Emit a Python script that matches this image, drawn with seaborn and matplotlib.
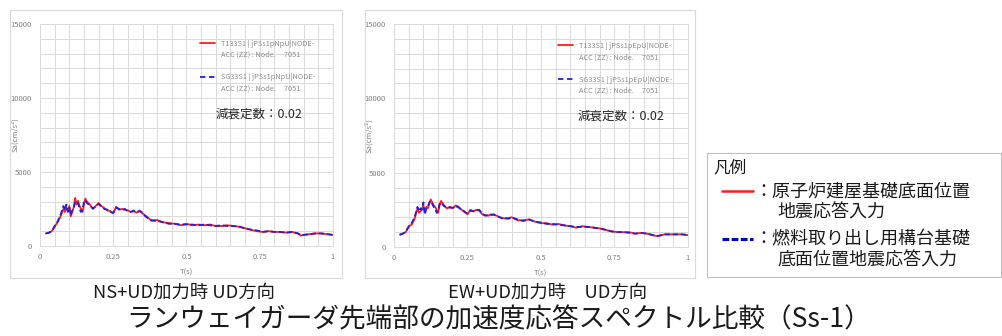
import numpy as np
import pandas as pd
import matplotlib
matplotlib.use('Agg')
import matplotlib.pyplot as plt
from matplotlib.patches import Rectangle
from matplotlib.lines import Line2D
import seaborn as sns

# 周期 T(s)
period = [0.02, 0.03, 0.04, 0.05, 0.06, 0.07, 0.08,
          0.085, 0.09, 0.095, 0.10, 0.105, 0.11, 0.115, 0.12, 0.125, 0.13,
          0.135, 0.14, 0.145, 0.15, 0.155, 0.16,
          0.17, 0.18, 0.19, 0.20, 0.21, 0.22, 0.23, 0.24, 0.25, 0.26, 0.27,
          0.28, 0.29, 0.30, 0.31, 0.32, 0.33, 0.34, 0.35, 0.36, 0.37, 0.38,
          0.39, 0.40,
          0.42, 0.44, 0.46, 0.48, 0.50, 0.52, 0.54, 0.56, 0.58, 0.60, 0.62,
          0.64, 0.66, 0.68, 0.70, 0.72, 0.74, 0.76, 0.78, 0.80, 0.82, 0.84,
          0.86, 0.88,
          0.89, 0.90, 0.92, 0.94, 0.96, 0.98, 1.00]

# NS+UD 加力時 UD方向
ns_red = [850, 880, 1000, 1300, 1600, 2000, 2500,
          2300, 2600, 2400, 2700, 2000, 2300, 2600, 3250, 2800, 3050,
          2700, 2500, 2300, 2800, 3200, 3000,
          2800, 2500, 2700, 2900, 2700, 2550, 2400, 2350, 2200, 2650, 2450,
          2500, 2450, 2400, 2300, 2350, 2250, 2400, 2200, 2050, 1900, 1700,
          1750, 1750,
          1600, 1550, 1500, 1400, 1500, 1400, 1450, 1400, 1450, 1350, 1350,
          1400, 1350, 1300, 1200, 1100, 1000, 950, 1000, 950, 950, 900,
          950, 850,
          700, 750, 800, 850, 850, 800, 750]
ns_blue = [850, 900, 1000, 1350, 1650, 2100, 2700,
           2400, 2800, 2300, 2600, 2100, 2400, 2500, 3000, 3000, 2900,
           2500, 2300, 2400, 3000, 3100, 2900,
           2750, 2550, 2650, 2850, 2650, 2500, 2450, 2300, 2250, 2600, 2500,
           2450, 2500, 2350, 2300, 2400, 2300, 2350, 2250, 2000, 1850, 1750,
           1700, 1700,
           1600, 1500, 1500, 1450, 1450, 1450, 1400, 1450, 1400, 1350, 1400,
           1350, 1350, 1300, 1200, 1100, 1050, 950, 1000, 950, 950, 900,
           950, 850,
           750, 750, 800, 850, 850, 800, 750]

# EW+UD 加力時 UD方向
ew_red = [830, 900, 1000, 1400, 1500, 1900, 2600,
          2300, 2400, 2600, 2800, 2300, 2700, 2600, 2900, 3200, 3000,
          2800, 2700, 2500, 2300, 2800, 3100,
          2800, 2600, 2700, 2600, 2800, 2700, 2500, 2400, 2200, 2500, 2400,
          2500, 2450, 2200, 2150, 2100, 2200, 2150, 2100, 2000, 1950, 1900,
          1950, 2000,
          1800, 1800, 1850, 1700, 1600, 1600, 1500, 1550, 1450, 1400, 1300,
          1400, 1350, 1300, 1250, 1150, 1050, 1000, 1000, 1000, 900, 950,
          900, 800,
          750, 750, 850, 850, 850, 850, 800]
ew_blue = [830, 900, 1050, 1350, 1600, 2000, 2700,
           2400, 2600, 2500, 3000, 2200, 2600, 2700, 3000, 3100, 2900,
           2700, 2600, 2300, 2400, 2900, 3000,
           2750, 2650, 2650, 2650, 2750, 2650, 2500, 2350, 2250, 2450, 2400,
           2450, 2500, 2250, 2100, 2150, 2150, 2200, 2050, 2000, 1900, 1950,
           1900, 2000,
           1850, 1750, 1850, 1700, 1650, 1550, 1550, 1500, 1450, 1400, 1350,
           1350, 1350, 1300, 1250, 1150, 1050, 1000, 1000, 950, 900, 950,
           900, 800,
           750, 750, 850, 850, 850, 850, 800]

panel_titles = ['NS+UD加力時 UD方向', 'EW+UD加力時　UD方向']
legend_lines = [['T133S1 | jPSs1pNpU|NODE-', 'ACC (ZZ) : Node.     7051',
                 'SG33S1 | jPSs1pNpU|NODE-', 'ACC (ZZ) : Node.     7051'],
                ['T133S1 | jPSs1pEpU|NODE-', 'ACC (ZZ) : Node.     7051',
                 'SG33S1 | jPSs1pEpU|NODE-', 'ACC (ZZ) : Node.     7051']]
main_title = 'ランウェイガーダ先端部の加速度応答スペクトル比較（Ss-1）'
damping_text = '減衰定数：0.02'
key_title = '凡例'
key_items = [['：原子炉建屋基礎底面位置', '地震応答入力'],
             ['：燃料取り出し用構台基礎', '底面位置地震応答入力']]

sns.set_style('white')
plt.rcParams['font.family'] = ['Noto Sans CJK JP', 'DejaVu Sans']

W, H = 1003, 336
fig = plt.figure(figsize=(W / 100, H / 100), dpi=100)
fig.patch.set_facecolor('white')

def fx(px):
    return px / W

def fy(py):
    return 1 - py / H

RED = '#ff1a1a'
BLUE = '#2020e0'
GRID = '#d9d9d9'
TICK = '#7f7f7f'

panels = [
    dict(box=(10, 10, 342, 278), ax=(40, 24, 333, 246), red=ns_red, blue=ns_blue,
         leg=(0.546, 0.93), damp=(0.60, 0.595), title_x=184),
    dict(box=(365, 10, 695, 278), ax=(394, 24, 688, 247), red=ew_red, blue=ew_blue,
         leg=(0.558, 0.92), damp=(0.625, 0.585), title_x=548),
]

for i, p in enumerate(panels):
    x0, y0, x1, y1 = p['box']
    fig.patches.append(Rectangle((fx(x0), fy(y1)), fx(x1 - x0), (y1 - y0) / H,
                                 transform=fig.transFigure, fill=False,
                                 edgecolor='#d9d9d9', linewidth=0.8))
    a0, b0, a1, b1 = p['ax']
    ax = fig.add_axes([fx(a0), fy(b1), fx(a1 - a0), (b1 - b0) / H])
    df = pd.DataFrame({'T': period, 'red': p['red'], 'blue': p['blue']})
    sns.lineplot(data=df, x='T', y='red', ax=ax, color=RED, linewidth=1.3, zorder=3)
    sns.lineplot(data=df, x='T', y='blue', ax=ax, color=BLUE, linewidth=1.3,
                 linestyle=(0, (3, 1.5)), zorder=4)
    ax.set_xlim(0, 1)
    ax.set_ylim(0, 15000)
    ax.set_xticks([0, 0.25, 0.5, 0.75, 1])
    ax.set_xticklabels(['0', '0.25', '0.5', '0.75', '1'])
    ax.set_yticks([0, 5000, 10000, 15000])
    ax.set_xticks(np.arange(0, 1.0001, 0.05), minor=True)
    ax.set_yticks(np.arange(0, 15001, 1000), minor=True)
    ax.grid(True, which='both', color=GRID, linewidth=0.7)
    ax.tick_params(axis='both', which='both', length=0, labelsize=5.5,
                   labelcolor=TICK)
    ax.tick_params(axis='y', pad=6)
    ax.tick_params(axis='x', pad=5)
    for s in ax.spines.values():
        s.set_color(GRID)
        s.set_linewidth(0.7)
    ax.set_xlabel('T(s)', fontsize=5.5, color=TICK)
    ax.set_ylabel('Sa(cm/s²)', fontsize=5.5, color=TICK)
    ax.xaxis.set_label_coords(0.5, -0.1)
    ax.yaxis.set_label_coords(-0.07, 0.5)

    blank = Line2D([], [], color='none')
    handles = [Line2D([], [], color=RED, linewidth=1.3), blank, blank,
               Line2D([], [], color=BLUE, linewidth=1.3, linestyle=(0, (3, 2))), blank]
    labels = [legend_lines[i][0], legend_lines[i][1], legend_lines[i][1],
              legend_lines[i][2], legend_lines[i][3]]
    leg = ax.legend(handles, labels, loc='upper left',
                    bbox_to_anchor=p['leg'], frameon=False,
                    fontsize=5.3, labelspacing=0.45, handlelength=2.0,
                    handletextpad=0.8, borderaxespad=0, borderpad=0)
    for k, t in enumerate(leg.get_texts()):
        t.set_color('none' if k == 2 else '#8c8c8c')
    ax.text(p['damp'][0], p['damp'][1], damping_text, transform=ax.transAxes,
            fontsize=9, color='#262626', va='center', ha='left')
    fig.text(fx(p['title_x']), fy(293), panel_titles[i], fontsize=13.2,
             ha='center', va='center', color='#1a1a1a')

# 凡例ボックス
fig.patches.append(Rectangle((fx(707), fy(277)), fx(1001 - 707), (277 - 153) / H,
                             transform=fig.transFigure, fill=False,
                             edgecolor='#bfbfbf', linewidth=0.8))
fig.text(fx(713), fy(168), key_title, fontsize=12, ha='left', va='center', color='#1a1a1a')
fig.add_artist(Line2D([fx(722), fx(753)], [fy(191), fy(191)], color=RED, linewidth=1.8))
fig.add_artist(Line2D([fx(722), fx(753)], [fy(239), fy(239)], color='#0000cc',
                      linewidth=2.2, linestyle=(0, (2.2, 0.8))))
for (first, second), yc in zip(key_items, [191, 239]):
    fig.text(fx(754), fy(yc), first, fontsize=13, ha='left', va='center',
             color='#1a1a1a')
    fig.text(fx(777), fy(yc + 22), second, fontsize=13, ha='left', va='center',
             color='#1a1a1a')

fig.text(fx(499), fy(320), main_title, fontsize=19.2, ha='center', va='center',
         color='#1a1a1a')

fig.savefig('out.png', dpi=100)
